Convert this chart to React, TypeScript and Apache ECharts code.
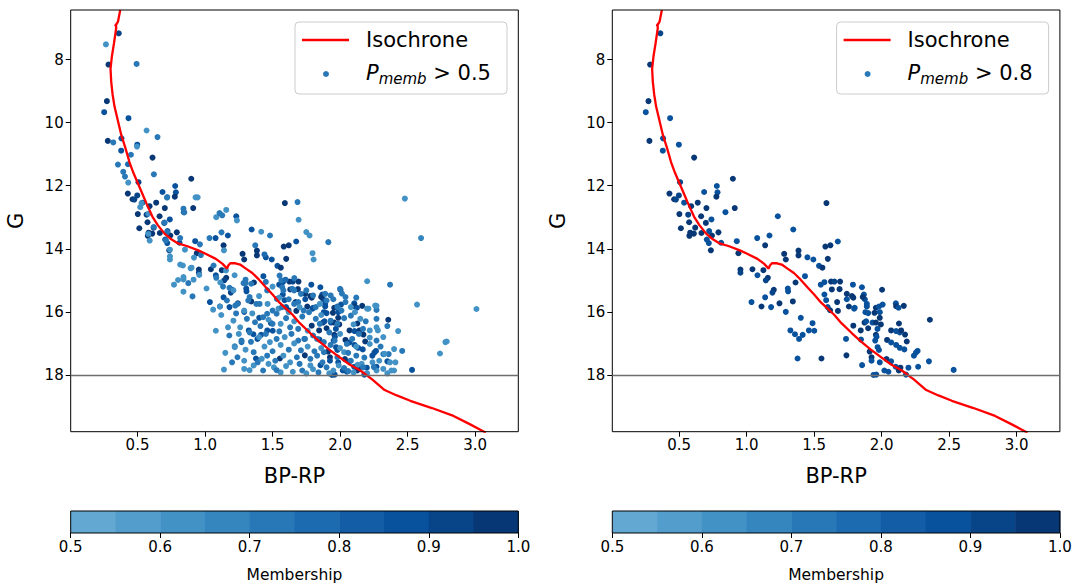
import React, { useEffect, useRef } from "react";
import * as echarts from "echarts";

// [BP-RP, G, membership probability]
const strongMembers: [number, number, number][] = [
  [0.361,7.17,0.93],[0.285,8.16,0.97],[0.273,9.32,0.98],[0.253,9.67,0.88],[0.433,9.86,0.87],
  [0.28,10.58,0.98],[0.381,10.5,0.86],[0.379,10.89,0.88],[0.498,10.7,0.85],[0.611,11.11,0.97],
  [0.898,11.78,0.96],[0.507,11.89,0.9],[0.428,12.25,0.97],[0.463,12.43,0.95],[0.476,12.44,0.92],
  [0.498,12.31,0.93],[0.537,12.54,0.88],[0.589,12.65,0.96],[0.502,12.9,0.97],[0.513,13.35,0.95],
  [0.574,13.16,0.97],[0.567,12.92,0.9],[0.576,13.59,0.96],[0.779,12.01,0.88],[0.784,12.21,0.86],
  [0.776,12.35,0.97],[0.685,12.2,0.87],[0.638,12.54,0.97],[0.702,12.71,0.96],[0.843,12.84,0.87],
  [0.912,12.71,0.97],[0.663,12.97,0.96],[0.739,13.07,0.88],[0.698,13.18,0.96],[0.619,13.33,0.97],
  [0.582,13.49,0.95],[0.609,13.52,0.98],[0.665,13.5,0.96],[0.722,13.44,0.87],[0.743,13.58,0.95],
  [0.791,13.48,0.97],[0.705,13.71,0.88],[0.72,13.82,0.86],[0.735,14.05,0.97],[0.811,13.81,0.87],
  [0.927,13.76,0.86],[0.939,14.14,0.96],[1.231,12.97,0.87],[1.345,13.39,0.88],[1.169,13.58,0.87],
  [1.078,13.66,0.88],[1.137,13.89,0.96],[0.954,14.66,0.96],[0.954,14.76,0.93],[1.043,14.65,0.97],
  [1.124,14.68,0.97],[1.08,14.84,0.87],[1.157,14.92,0.97],[1.142,15.0,0.9],[1.201,15.3,0.95],
  [1.191,15.39,0.92],[1.137,15.54,0.88],[1.036,15.69,0.88],[1.11,15.83,0.97],[1.181,15.85,0.87],
  [1.243,15.73,0.97],[1.305,15.26,0.88],[1.307,15.35,0.85],[1.342,15.67,0.97],[1.362,15.07,0.96],
  [1.432,14.87,0.88],[1.278,14.16,0.97],[1.29,14.34,0.96],[1.384,14.06,0.97],[1.384,14.21,0.96],
  [1.45,14.27,0.88],[1.494,14.34,0.87],[1.536,14.54,0.86],[1.561,14.6,0.95],[1.591,12.55,0.97],
  [1.583,13.93,0.97],[1.62,13.89,0.96],[1.675,13.77,0.87],[1.601,14.32,0.97],[1.549,15.14,0.88],
  [1.576,15.06,0.87],[1.625,15.04,0.97],[1.65,15.04,0.9],[1.692,15.04,0.97],[1.631,15.29,0.96],
  [1.688,15.28,0.97],[1.787,15.14,0.87],[1.854,15.22,0.87],[1.576,15.45,0.88],[1.589,15.63,0.87],
  [1.742,15.43,0.96],[1.742,15.6,0.88],[1.78,15.5,0.97],[1.868,15.45,0.86],[1.875,15.6,0.88],
  [1.67,15.69,0.96],[1.757,15.83,0.97],[1.8,15.87,0.88],[1.89,15.83,0.87],[1.6,15.85,0.88],
  [1.29,16.0,0.88],[1.401,16.19,0.87],[1.324,16.59,0.86],[1.358,16.71,0.88],[1.388,16.86,0.87],
  [1.415,16.73,0.88],[1.461,16.59,0.87],[1.501,16.6,0.86],[1.488,16.36,0.87],[1.377,17.48,0.88],
  [1.554,17.48,0.97],[1.618,15.95,0.97],[1.676,15.97,0.96],[1.79,15.55,0.96],[1.86,15.53,0.97],
  [2.003,15.3,0.97],[1.796,15.9,0.88],[1.89,15.75,0.87],[1.957,15.87,0.97],[1.98,15.83,0.88],
  [2.007,15.77,0.87],[2.105,15.73,0.87],[2.107,15.82,0.96],[2.164,15.81,0.97],[1.88,16.01,0.87],
  [1.9,16.04,0.88],[1.947,16.03,0.96],[1.986,16.01,0.88],[1.986,16.19,0.97],[2.125,15.87,0.87],
  [2.357,16.25,0.97],[2.128,16.37,0.97],[1.873,16.34,0.96],[1.885,16.3,0.88],[1.932,16.34,0.87],
  [1.957,16.34,0.96],[1.79,16.44,0.97],[1.845,16.59,0.96],[1.9,16.52,0.97],[1.969,16.54,0.88],
  [1.994,16.4,0.96],[2.07,16.59,0.97],[2.107,16.61,0.87],[2.134,16.65,0.88],[2.144,16.59,0.96],
  [1.736,16.86,0.87],[1.957,16.73,0.96],[1.962,16.79,0.88],[1.952,16.91,0.87],[2.04,16.89,0.96],
  [2.07,16.97,0.88],[2.107,17.05,0.87],[2.134,17.14,0.88],[2.168,17.19,0.87],[2.186,16.94,0.96],
  [2.173,16.72,0.97],[1.847,16.88,0.88],[1.911,17.26,0.96],[1.98,17.21,0.88],[1.97,17.12,0.87],
  [1.925,17.44,0.97],[1.925,17.55,0.88],[1.986,17.6,0.87],[1.739,17.38,0.96],[1.855,17.69,0.88],
  [2.02,17.86,0.87],[2.05,17.9,0.88],[1.94,18.0,0.87],[1.96,17.99,0.86],[2.036,17.5,0.96],
  [2.07,17.57,0.88],[2.104,17.74,0.87],[2.139,17.77,0.96],[2.198,17.77,0.88],[2.27,17.74,0.87],
  [2.239,17.39,0.87],[2.254,17.29,0.88],[2.266,17.24,0.87],[2.35,17.57,0.88],[2.533,17.84,0.88],
  [2.127,17.86,0.96],[2.18,17.99,0.87]
];

const weakMembers: [number, number, number][] = [
  [0.266,7.52,0.6],[0.493,8.14,0.72],[0.567,10.25,0.6],[0.648,10.46,0.73],[0.32,10.63,0.72],
  [0.496,10.76,0.6],[0.451,11.02,0.74],[0.355,11.33,0.72],[0.429,11.32,0.76],[0.394,11.56,0.72],
  [0.407,11.71,0.74],[0.621,11.64,0.73],[0.431,11.9,0.6],[0.718,12.38,0.6],[0.93,12.37,0.6],
  [0.945,12.37,0.62],[0.84,12.73,0.72],[0.846,12.85,0.74],[1.083,13.0,0.62],[1.107,12.87,0.72],
  [1.127,12.94,0.7],[1.157,12.77,0.6],[1.236,13.1,0.6],[1.685,12.52,0.7],[1.693,13.08,0.6],
  [1.416,13.46,0.6],[1.481,13.58,0.7],[1.122,13.48,0.72],[1.033,13.66,0.73],[0.962,13.86,0.72],
  [0.816,13.66,0.72],[0.851,14.03,0.62],[0.918,14.28,0.6],[0.969,14.2,0.7],[1.14,14.05,0.6],
  [1.44,14.18,0.78],[1.372,13.89,0.72],[1.913,13.79,0.72],[1.75,13.47,0.6],[1.774,13.58,0.6],
  [1.796,14.14,0.6],[1.804,14.34,0.6],[0.816,14.5,0.6],[0.836,14.53,0.6],[0.893,14.62,0.6],
  [0.957,14.83,0.6],[1.063,14.53,0.72],[1.155,14.69,0.6],[1.083,14.92,0.72],[0.84,14.97,0.6],
  [0.876,15.09,0.72],[0.915,14.98,0.6],[1.011,15.26,0.6],[1.113,15.07,0.6],[1.133,15.2,0.72],
  [1.181,15.24,0.72],[1.219,14.84,0.6],[1.3,14.98,0.72],[1.285,15.09,0.7],[1.342,15.11,0.72],
  [1.552,14.85,0.72],[1.565,15.0,0.7],[1.596,14.98,0.78],[1.661,14.93,0.72],[1.572,15.22,0.72],
  [1.646,15.27,0.7],[2.014,15.42,0.72],[2.201,15.03,0.6],[0.84,15.36,0.6],[0.907,15.51,0.72],
  [1.224,15.8,0.72],[1.162,15.64,0.7],[1.404,15.75,0.72],[1.463,15.75,0.6],[1.532,15.59,0.7],
  [1.544,15.9,0.6],
  [0.53,12.55,0.6],[0.52,12.68,0.6],[0.58,12.89,0.6],[0.72,12.36,0.72],[0.58,13.53,0.6],
  [0.59,13.74,0.6],[0.62,13.31,0.72],[0.7,13.17,0.72],[0.72,13.47,0.72],[0.71,13.74,0.72],
  [0.74,14.03,0.6],[0.74,14.24,0.6],[0.74,14.34,0.62],[0.9,14.6,0.6],[0.77,15.14,0.6],
  [0.8,14.99,0.6],[0.84,14.9,0.6],
  [1.06,15.93,0.6],[1.11,15.83,0.6],[1.17,16.49,0.6],[1.14,17.83,0.6],[1.22,17.09,0.72],
  [1.27,16.96,0.78],[1.29,17.81,0.6],
  [2.48,12.41,0.62],[2.6,13.66,0.65],[2.37,15.14,0.7],[2.57,15.77,0.6],[3.01,15.91,0.6],
  [2.78,16.96,0.6],[2.79,16.94,0.6],[2.74,17.32,0.62],[2.46,17.24,0.72],[2.43,16.61,0.6],
  [2.35,16.45,0.72],[2.28,16.59,0.6],[2.27,16.22,0.72],[2.27,15.94,0.72],[2.27,15.81,0.6],
  [2.21,15.9,0.6],[2.32,17.34,0.72],[2.36,17.34,0.7],[2.41,17.6,0.6],[2.38,17.86,0.6],
  [1.21,15.32,0.6],[1.3,15.09,0.72],[1.33,15.53,0.72],[1.46,15.32,0.7],[1.58,15.32,0.72],
  [1.66,15.32,0.7],[1.71,15.43,0.72],[1.75,15.32,0.7],[1.8,15.48,0.72],[1.89,15.43,0.7],
  [1.93,15.48,0.72],[2.0,15.27,0.7],[2.04,15.53,0.72],[2.26,15.8,0.6],
  [1.24,15.75,0.72],[1.29,15.96,0.6],[1.32,15.64,0.7],[1.38,15.75,0.72],[1.46,16.06,0.72],
  [1.5,15.96,0.7],[1.53,16.06,0.72],[1.57,15.85,0.7],[1.62,16.01,0.6],[1.66,15.75,0.72],
  [1.69,15.69,0.7],[1.73,15.96,0.72],[1.77,16.01,0.7],[1.82,15.85,0.72],[1.9,15.64,0.72],
  [1.98,15.85,0.7],[2.01,15.96,0.72],[2.04,15.69,0.7],[2.08,16.12,0.72],[2.11,16.01,0.6],
  [2.15,16.22,0.6],[2.2,15.9,0.6],
  [1.21,16.28,0.6],[1.26,16.49,0.6],[1.31,16.22,0.72],[1.37,16.33,0.7],[1.43,16.17,0.72],
  [1.5,16.38,0.72],[1.56,16.38,0.6],[1.63,16.49,0.72],[1.69,16.54,0.7],[1.82,16.22,0.72],
  [1.85,16.38,0.7],[1.93,16.28,0.72],[1.98,16.38,0.7],[2.14,16.7,0.72],[2.17,16.54,0.7],
  [2.22,16.59,0.6],[2.27,16.49,0.6],
  [1.22,17.12,0.6],[1.27,16.91,0.72],[1.33,16.65,0.72],[1.4,16.8,0.6],[1.45,16.7,0.72],
  [1.48,16.96,0.6],[1.53,16.86,0.7],[1.59,16.8,0.6],[1.64,16.7,0.72],[1.69,16.91,0.7],
  [1.74,16.86,0.72],[1.83,16.86,0.7],[1.88,16.96,0.72],[1.96,16.91,0.7],[2.05,17.02,0.72],
  [2.09,16.86,0.7],[2.22,17.02,0.6],[2.27,16.91,0.72],[2.32,16.8,0.6],[2.4,17.18,0.6],
  [1.24,17.44,0.72],[1.29,17.55,0.6],[1.36,17.28,0.72],[1.42,17.49,0.6],[1.46,17.39,0.7],
  [1.52,17.55,0.72],[1.58,17.39,0.6],[1.63,17.6,0.6],[1.68,17.44,0.72],[1.78,17.49,0.7],
  [1.83,17.39,0.72],[1.88,17.28,0.7],[1.98,17.44,0.72],[2.03,17.28,0.6],[2.08,17.55,0.72],
  [2.12,17.39,0.7],[2.16,17.65,0.6],[2.29,17.55,0.6],[2.33,17.33,0.6],[2.37,17.6,0.6],
  [1.36,17.7,0.6],[1.43,17.86,0.72],[1.51,17.76,0.6],[1.56,17.92,0.6],[1.72,17.86,0.72],
  [1.78,17.7,0.6],[1.84,17.92,0.7],[1.9,17.76,0.72],[1.95,17.86,0.6],[2.03,17.78,0.72],
  [2.1,17.92,0.6],[2.17,17.76,0.72],[2.27,17.86,0.6],[2.32,17.81,0.6],[2.4,17.86,0.6],
  [1.35,16.05,0.6],[1.41,16.45,0.72],[1.47,16.25,0.6],[1.55,16.62,0.72],[1.6,16.2,0.7],
  [1.66,16.3,0.6],[1.72,16.15,0.72],[1.76,16.6,0.6],[1.8,16.75,0.7],[1.86,16.1,0.6],
  [1.92,16.65,0.72],[2.0,16.7,0.6],[2.03,16.2,0.72],[2.1,16.4,0.6],[2.19,16.3,0.72],
  [2.22,16.82,0.6],[2.3,17.1,0.72],
  [1.3,17.2,0.6],[1.34,16.95,0.7],[1.44,17.1,0.6],[1.5,17.25,0.72],[1.56,17.05,0.6],
  [1.62,17.2,0.72],[1.66,17.0,0.6],[1.71,17.22,0.7],[1.76,17.1,0.6],[1.81,17.25,0.72],
  [1.86,17.15,0.6],[1.93,17.05,0.72],[2.0,17.15,0.6],[2.06,17.3,0.7],[2.12,17.1,0.6],
  [2.18,17.45,0.72],[2.24,17.6,0.6],
  [1.33,17.85,0.6],[1.39,17.6,0.72],[1.47,17.65,0.6],[1.53,17.85,0.7],[1.6,17.72,0.6],
  [1.65,17.9,0.6],[1.7,17.65,0.72],[1.75,17.95,0.6],[1.8,17.82,0.6],[1.87,17.6,0.72],
  [1.92,17.95,0.6],[1.99,17.7,0.6],[2.06,17.88,0.72],[2.13,17.68,0.6],[2.2,17.95,0.6],
  [2.25,17.75,0.72],[2.35,17.95,0.6],
  [1.12,16.1,0.6],[1.18,16.75,0.72],[1.15,17.3,0.6],[1.25,16.7,0.6],[1.2,17.6,0.72],
  [1.08,16.6,0.6],[1.23,16.05,0.72],
  [1.55,15.55,0.6],[1.62,15.6,0.72],[1.7,15.85,0.6],[1.85,15.75,0.6],[1.95,15.6,0.72],
  [2.08,15.85,0.6],[2.12,15.55,0.72],[1.4,15.5,0.6],[1.45,15.05,0.72],[1.5,15.2,0.6]
];

// isochrone [BP-RP, G]
const isochrone: [number, number][] = [
  [0.372,6.43],[0.355,6.8],[0.335,6.95],[0.34,6.88],[0.342,7.0],[0.325,7.5],[0.31,7.9],[0.3,8.3],
  [0.305,8.7],[0.315,9.1],[0.33,9.5],[0.355,9.95],[0.38,10.4],[0.41,10.8],[0.44,11.25],[0.47,11.6],
  [0.5,11.9],[0.535,12.25],[0.57,12.6],[0.61,12.98],[0.65,13.25],[0.7,13.52],[0.75,13.7],[0.8,13.83],
  [0.87,13.92],[0.95,14.05],[1.0,14.15],[1.08,14.32],[1.13,14.48],[1.163,14.63],[1.172,14.53],
  [1.187,14.46],[1.225,14.46],[1.26,14.5],[1.3,14.62],[1.35,14.77],[1.4,14.98],[1.45,15.22],
  [1.5,15.45],[1.55,15.7],[1.6,15.9],[1.65,16.1],[1.7,16.35],[1.78,16.68],[1.85,16.95],[1.92,17.2],
  [2.0,17.45],[2.07,17.67],[2.15,17.86],[2.24,18.15],[2.33,18.48],[2.42,18.65],[2.52,18.82],
  [2.68,19.05],[2.84,19.3],[2.96,19.56],[3.08,19.83]
];

const xTicks = [0.5, 1.0, 1.5, 2.0, 2.5, 3.0];
const yTicks = [8, 10, 12, 14, 16, 18];
const magLimit = 18;
const thresholds = [0.5, 0.8];
const binEdges = [0.5, 0.55, 0.6, 0.65, 0.7, 0.75, 0.8, 0.85, 0.9, 0.95, 1.0];
const binColors = ["#63a8d3", "#529dcc", "#4292c6", "#3585bf", "#2878b8", "#1c6bb0", "#125da6", "#08519c", "#084488", "#083775"];

const FONT = "DejaVu Sans";

function colorFor(p: number): string {
  for (let i = 0; i < binColors.length; i++) {
    if (p < binEdges[i + 1]) return binColors[i];
  }
  return binColors[binColors.length - 1];
}

export default function App() {
  const ref = useRef<HTMLDivElement>(null);
  useEffect(() => {
    if (!ref.current) return;
    const chart = echarts.init(ref.current, undefined, { renderer: "svg" });
    const allMembers = [...strongMembers, ...weakMembers];
    const panels = [
      { left: 70.7, data: allMembers.filter((d) => d[2] > thresholds[0]), thr: thresholds[0] },
      { left: 612.3, data: strongMembers.filter((d) => d[2] > thresholds[1]), thr: thresholds[1] },
    ];
    const W = 447.6;
    const grids: any[] = [];
    const xAxes: any[] = [];
    const yAxes: any[] = [];
    const series: any[] = [];
    const graphics: any[] = [];
    panels.forEach((p, i) => {
      grids.push({ left: p.left, top: 10, width: W, height: 421.7, show: true, borderColor: "#000", borderWidth: 1, backgroundColor: "transparent", z: 5 });
      xAxes.push({
        type: "value", gridIndex: i, min: 0.005, max: 3.32,
        axisLine: { show: false }, splitLine: { show: false },
        axisTick: { show: true, length: 5, lineStyle: { color: "#000", width: 1 }, customValues: xTicks },
        axisLabel: { customValues: xTicks, formatter: (v: number) => v.toFixed(1), fontSize: 15, color: "#000", fontFamily: FONT, margin: 6 },
        name: "BP-RP", nameLocation: "middle", nameGap: 34,
        nameTextStyle: { fontSize: 21, color: "#000", fontFamily: FONT },
      });
      yAxes.push({
        type: "value", gridIndex: i, min: 6.43, max: 19.8, inverse: true,
        axisLine: { show: false }, splitLine: { show: false },
        axisTick: { show: true, length: 5, lineStyle: { color: "#000", width: 1 }, customValues: yTicks },
        axisLabel: { customValues: yTicks, formatter: (v: number) => String(v), fontSize: 15, color: "#000", fontFamily: FONT, margin: 7 },
        name: "G", nameLocation: "middle", nameGap: 44, nameRotate: 90,
        nameTextStyle: { fontSize: 21, color: "#000", fontFamily: FONT },
      });
      series.push({
        type: "scatter", xAxisIndex: i, yAxisIndex: i, data: p.data, symbolSize: 6,
        itemStyle: { color: (params: any) => colorFor(params.value[2]), opacity: 1 },
        z: 2,
      });
      series.push({
        type: "line", xAxisIndex: i, yAxisIndex: i, data: isochrone, symbol: "none", showSymbol: false,
        lineStyle: { color: "#ff0000", width: 2.3 }, z: 4, clip: true,
        markLine: {
          silent: true, symbol: ["none", "none"], label: { show: false },
          lineStyle: { color: "#6e6e6e", width: 1.3, type: "solid" },
          data: [{ yAxis: magLimit }],
        },
      });
      // legend
      const bx = p.left + 224.3;
      graphics.push({
        type: "group", z: 100,
        children: [
          { type: "rect", shape: { x: bx, y: 22, width: 212, height: 72, r: 4 }, style: { fill: "rgba(255,255,255,0.85)", stroke: "#cccccc", lineWidth: 1 } },
          { type: "line", shape: { x1: bx + 7, y1: 40, x2: bx + 54, y2: 40 }, style: { stroke: "#ff0000", lineWidth: 2.3 } },
          { type: "circle", shape: { cx: bx + 31, cy: 74, r: 3 }, style: { fill: "#2878b8" } },
          { type: "text", x: bx + 71, y: 40, style: { text: "Isochrone", fontSize: 21, fontFamily: FONT, fill: "#000", verticalAlign: "middle" } },
          {
            type: "text", x: bx + 71, y: 73,
            style: {
              text: "{P|P}{s|memb}{t| > " + p.thr.toFixed(1) + "}",
              verticalAlign: "middle", fill: "#000",
              rich: {
                P: { fontSize: 21, fontStyle: "italic", fontFamily: FONT, fill: "#000" },
                s: { fontSize: 15, fontStyle: "italic", fontFamily: FONT, fill: "#000", padding: [12, 0, 0, 0] },
                t: { fontSize: 21, fontFamily: FONT, fill: "#000" },
              },
            },
          },
        ],
      });
    });
    // colorbars
    panels.forEach((p, i) => {
      const gi = 2 + i;
      grids.push({ left: p.left, top: 511, width: W, height: 22, show: true, borderColor: "#000", borderWidth: 1, backgroundColor: "transparent", z: 5 });
      xAxes.push({
        type: "value", gridIndex: gi, min: 0.5, max: 1.0, interval: 0.1,
        axisLine: { show: false }, splitLine: { show: false },
        axisTick: { show: true, length: 5, lineStyle: { color: "#000" } },
        axisLabel: { formatter: (v: number) => v.toFixed(1), fontSize: 15, color: "#000", fontFamily: FONT, margin: 6 },
        name: "Membership", nameLocation: "middle", nameGap: 34,
        nameTextStyle: { fontSize: 15.5, color: "#000", fontFamily: FONT },
      });
      yAxes.push({ type: "value", gridIndex: gi, min: 0, max: 1, show: false });
      series.push({
        type: "custom", xAxisIndex: gi, yAxisIndex: gi, z: 1,
        data: binColors.map((_, k) => [binEdges[k], binEdges[k + 1]]),
        renderItem: (params: any, api: any) => {
          const a = api.coord([api.value(0), 1]);
          const b = api.coord([api.value(1), 0]);
          return { type: "rect", shape: { x: a[0], y: a[1], width: b[0] - a[0] + 0.5, height: b[1] - a[1] }, style: { fill: binColors[params.dataIndex] } };
        },
      });
    });
    chart.setOption({
      animation: false,
      backgroundColor: "#ffffff",
      grid: grids, xAxis: xAxes, yAxis: yAxes, series, graphic: graphics,
    });
    return () => chart.dispose();
  }, []);
  return <div ref={ref} style={{ position: "fixed", left: 0, top: 0, width: 1076, height: 584 }} />;
}
